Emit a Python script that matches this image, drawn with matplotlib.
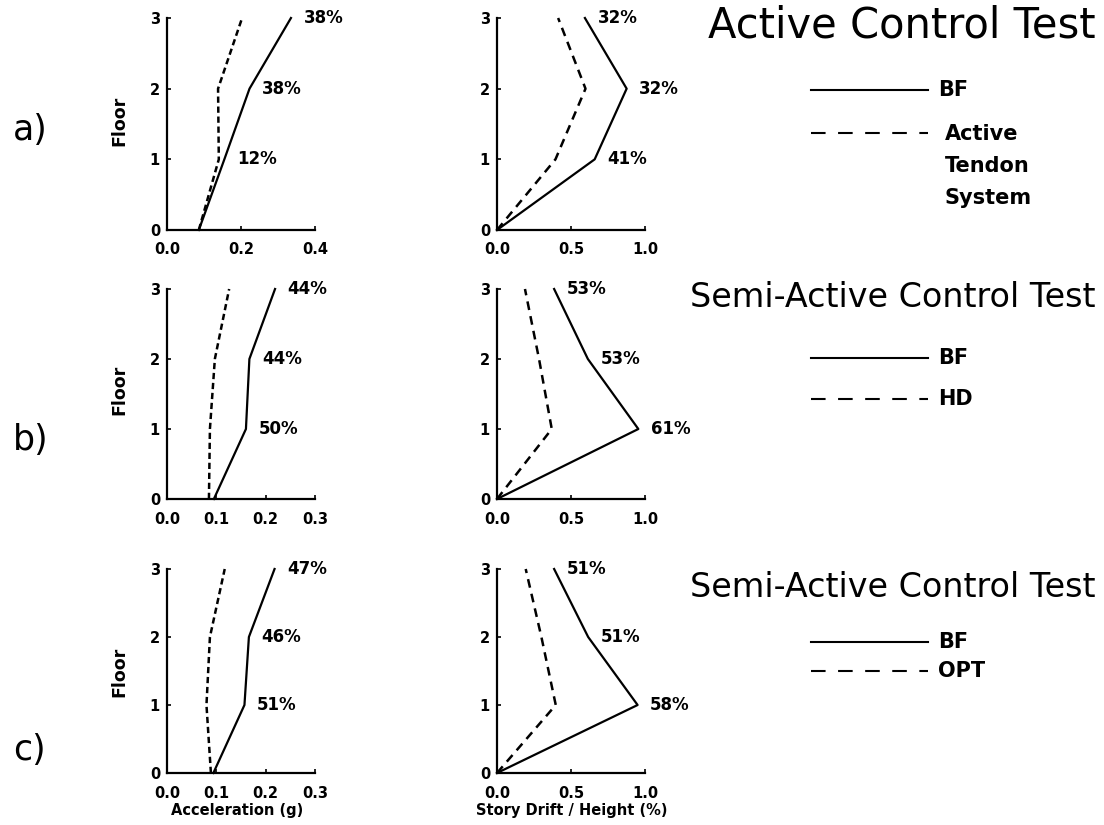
import matplotlib
matplotlib.use("Agg")
import matplotlib.pyplot as plt
from matplotlib.lines import Line2D

# floors and response profiles
floors = [0, 1, 2, 3]

acc_a_bf = [0.086, 0.155, 0.223, 0.335]
acc_a_ctrl = [0.086, 0.140, 0.138, 0.203]
drift_a_bf = [0.0, 0.66, 0.876, 0.594]
drift_a_ctrl = [0.0, 0.395, 0.598, 0.413]

acc_b_bf = [0.095, 0.160, 0.167, 0.219]
acc_b_ctrl = [0.085, 0.087, 0.097, 0.126]
drift_b_bf = [0.0, 0.955, 0.614, 0.386]
drift_b_ctrl = [0.0, 0.370, 0.284, 0.189]

acc_c_bf = [0.094, 0.157, 0.166, 0.218]
acc_c_ctrl = [0.089, 0.080, 0.087, 0.117]
drift_c_bf = [0.0, 0.950, 0.616, 0.386]
drift_c_ctrl = [0.0, 0.397, 0.300, 0.194]

# reduction percentages for floors 1..3
pct_acc_a = ["12%", "38%", "38%"]
pct_drift_a = ["41%", "32%", "32%"]
pct_acc_b = ["50%", "44%", "44%"]
pct_drift_b = ["61%", "53%", "53%"]
pct_acc_c = ["51%", "46%", "47%"]
pct_drift_c = ["58%", "51%", "51%"]

acc_ticks_a = [0.0, 0.2, 0.4]
acc_ticks_bc = [0.0, 0.1, 0.2, 0.3]
drift_ticks = [0.0, 0.5, 1.0]

row_letters = ["a)", "b)", "c)"]
titles = ["Active Control Test", "Semi-Active Control Test", "Semi-Active Control Test"]
ctrl_names = ["Active\nTendon\nSystem", "HD", "OPT"]

W, H = 1104, 825
fig = plt.figure(figsize=(W / 100, H / 100), dpi=100)


def px(x, y):
    return x / W, 1 - y / H


def panel(left, top, bottom, xmax, ticks, bf, ctrl, pcts, dash):
    ax = fig.add_axes([left / W, 1 - bottom / H, 148 / W, (bottom - top) / H])
    ax.plot(bf, floors, color="black", lw=1.6, clip_on=False)
    ax.plot(ctrl, floors, color="black", lw=1.8, linestyle=dash, clip_on=False)
    for x, f, t in zip(bf[1:], floors[1:], pcts):
        ax.annotate(t, (x, f), xytext=(9, 0), textcoords="offset points",
                    ha="left", va="center", fontsize=12, fontweight="bold")
    ax.set_xlim(0, xmax)
    ax.set_ylim(0, 3)
    ax.set_xticks(ticks)
    ax.set_xticklabels([f"{t:.1f}" for t in ticks])
    ax.set_yticks(floors)
    for s in ["top", "right"]:
        ax.spines[s].set_visible(False)
    for s in ["left", "bottom"]:
        ax.spines[s].set_linewidth(1.6)
    ax.tick_params(axis="x", direction="in", length=3, width=1.2, pad=9,
                   labelsize=10.5)
    ax.tick_params(axis="y", direction="in", length=3, width=1.2, pad=5,
                   labelsize=10.5)
    for lab in ax.get_xticklabels() + ax.get_yticklabels():
        lab.set_fontweight("bold")
    return ax


rows = [
    (18, 230, 0.4, acc_ticks_a, acc_a_bf, acc_a_ctrl, pct_acc_a, drift_a_bf, drift_a_ctrl, pct_drift_a),
    (289, 499, 0.3, acc_ticks_bc, acc_b_bf, acc_b_ctrl, pct_acc_b, drift_b_bf, drift_b_ctrl, pct_drift_b),
    (569, 773, 0.3, acc_ticks_bc, acc_c_bf, acc_c_ctrl, pct_acc_c, drift_c_bf, drift_c_ctrl, pct_drift_c),
]

letter_y = [130, 440, 750]
floor_y = [121, 390, 672]
title_base = [38, 307, 597]
title_size = [30, 24, 24]
bf_y = [90, 358, 642]
ctrl_y = [133, 399, 671]

for i, (top, bot, amax, aticks, abf, actrl, apct, dbf, dctrl, dpct) in enumerate(rows):
    panel(167, top, bot, amax, aticks, abf, actrl, apct, (0, (2.5, 1.5)))
    panel(497, top, bot, 1.0, drift_ticks, dbf, dctrl, dpct, (0, (3.5, 2.5)))

    fig.text(*px(13, letter_y[i]), row_letters[i], fontsize=25, ha="left", va="center")
    fig.text(*px(119, floor_y[i]), "Floor", rotation=90, fontsize=12.5,
             fontweight="bold", ha="center", va="center")
    fig.text(*px(1096, title_base[i]), titles[i], fontsize=title_size[i],
             ha="right", va="baseline")

    # legend
    x0, y0 = px(811, bf_y[i])
    x1, _ = px(928, bf_y[i])
    fig.add_artist(Line2D([x0, x1], [y0, y0], color="black", lw=1.5))
    fig.text(*px(938, bf_y[i]), "BF", fontsize=15, fontweight="bold",
             ha="left", va="center")
    _, yc = px(811, ctrl_y[i])
    fig.add_artist(Line2D([x0, x1], [yc, yc], color="black", lw=1.5,
                          linestyle=(0, (7, 6))))
    if "\n" in ctrl_names[i]:
        fig.text(*px(945, ctrl_y[i] - 9), ctrl_names[i], fontsize=15,
                 fontweight="bold", ha="left", va="top", linespacing=1.75)
    else:
        fig.text(*px(938, ctrl_y[i]), ctrl_names[i], fontsize=15,
                 fontweight="bold", ha="left", va="center")

fig.text(*px(237, 810), "Acceleration (g)", fontsize=10.5, fontweight="bold",
         ha="center", va="center")
fig.text(*px(572, 810), "Story Drift / Height (%)", fontsize=10.5,
         fontweight="bold", ha="center", va="center")

fig.savefig("out.png", dpi=100)
